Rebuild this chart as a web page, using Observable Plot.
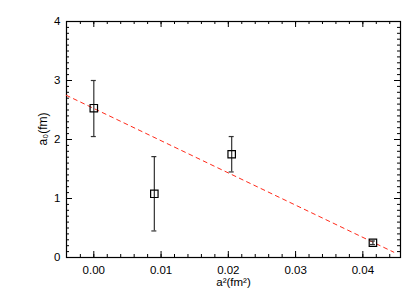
<!DOCTYPE html>
<html>
<head>
<meta charset="utf-8">
<script src="https://cdn.jsdelivr.net/npm/d3@7"></script>
<script src="https://cdn.jsdelivr.net/npm/@observablehq/plot@0.6"></script>
<style>
html,body{margin:0;padding:0;background:#fff;}
</style>
</head>
<body>
<div id="chart"></div>
<script>
// data
const a2 = [0.0000, 0.0090, 0.0205, 0.0415];
const a0 = [2.53, 1.08, 1.75, 0.25];
const errLo = [2.05, 0.45, 1.45, 0.22];
const errHi = [3.00, 1.71, 2.05, 0.28];
const fitX = [-0.0041, 0.0446];
const fitY = [2.75, 0.09];
const xTicks = [0.00, 0.01, 0.02, 0.03, 0.04];
const yTicks = [0, 1, 2, 3, 4];

const points = a2.map((x, i) => ({x, y: a0[i], lo: errLo[i], hi: errHi[i]}));
const fit = fitX.map((x, i) => ({x, y: fitY[i]}));

const W = 420, H = 300;
const mL = 66, mR = 20, mT = 21, mB = 43;
const iW = W - mL - mR, iH = H - mT - mB;
const xDomain = [-0.00406, 0.0456];
const xMinor = d3.range(-0.002, 0.0456, 0.002).filter(v => v > xDomain[0]);
const yMinor = d3.range(0, 4.0001, 0.1).map(v => +v.toFixed(2));
const font = "'Liberation Sans', Arial, sans-serif";

const chart = Plot.plot({
  width: W, height: H,
  marginLeft: mL, marginRight: mR, marginTop: mT, marginBottom: mB,
  style: {fontFamily: font, fontSize: "11px", background: "#fff", color: "#000"},
  x: {domain: xDomain},
  y: {domain: [0, 4]},
  marks: [
    // tick labels
    Plot.axisX({ticks: xTicks, tickSize: 0, tickPadding: 8, tickFormat: d3.format(".2f"), label: null, fontSize: 11.5}),
    Plot.axisY({ticks: yTicks, tickSize: 0, tickPadding: 6, tickFormat: d3.format("d"), label: null, fontSize: 11.5}),
    // inward ticks, bottom & top
    Plot.tickX(xMinor, {x: d => d, insetTop: iH - 3, stroke: "#000"}),
    Plot.tickX(xMinor, {x: d => d, insetBottom: iH - 3, stroke: "#000"}),
    Plot.tickX(xTicks, {x: d => d, insetTop: iH - 6, stroke: "#000"}),
    Plot.tickX(xTicks, {x: d => d, insetBottom: iH - 6, stroke: "#000"}),
    // inward ticks, left & right
    Plot.tickY(yMinor, {y: d => d, insetRight: iW - 3, stroke: "#000"}),
    Plot.tickY(yMinor, {y: d => d, insetLeft: iW - 3, stroke: "#000"}),
    Plot.tickY(yTicks, {y: d => d, insetRight: iW - 6, stroke: "#000"}),
    Plot.tickY(yTicks, {y: d => d, insetLeft: iW - 6, stroke: "#000"}),
    Plot.frame({stroke: "#000", strokeWidth: 1.2}),
    // fit line
    Plot.line(fit, {x: "x", y: "y", stroke: "#ff2a1a", strokeWidth: 1, strokeDasharray: "4,4"}),
    // error bars
    Plot.ruleX(points, {x: "x", y1: "lo", y2: "hi", stroke: "#333", strokeWidth: 1.2}),
    Plot.ruleY(points, {y: "lo", x1: "x", x2: "x", insetLeft: -2.5, insetRight: -2.5, stroke: "#333", strokeWidth: 1.2}),
    Plot.ruleY(points, {y: "hi", x1: "x", x2: "x", insetLeft: -2.5, insetRight: -2.5, stroke: "#333", strokeWidth: 1.2}),
    // markers
    Plot.dot(points, {x: "x", y: "y", symbol: "square", r: 4.2, stroke: "#000", fill: "none", strokeWidth: 1.2}),
    // axis titles
    Plot.text(["a₀(fm)"], {frameAnchor: "left", dx: -23, dy: 6, rotate: -90, fontSize: 12, fill: "#000"}),
    Plot.text(["a²(fm²)"], {frameAnchor: "bottom", dy: 28, fontSize: 11.5, fill: "#000"})
  ]
});
document.getElementById("chart").appendChild(chart);
</script>
</body>
</html>
